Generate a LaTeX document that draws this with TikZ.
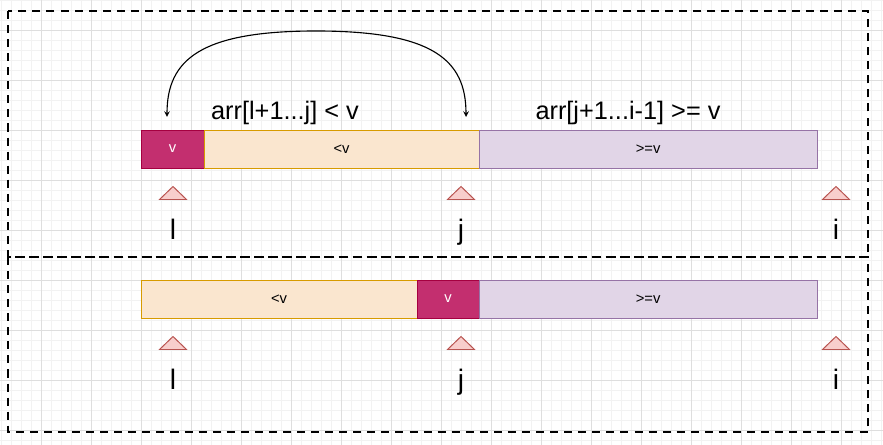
\documentclass[tikz,border=0pt]{standalone}
\usepackage{fontspec}
\setmainfont{Liberation Sans}
\usetikzlibrary{arrows,positioning}
\definecolor{pivotfill}{RGB}{195,47,111}
\definecolor{pivotline}{RGB}{165,0,64}
\definecolor{lessfill}{RGB}{250,230,207}
\definecolor{lessline}{RGB}{215,155,0}
\definecolor{geqfill}{RGB}{225,213,231}
\definecolor{geqline}{RGB}{150,115,166}
\definecolor{markfill}{RGB}{248,206,204}
\definecolor{markline}{RGB}{184,84,80}

\begin{document}
\begin{tikzpicture}[
    x=0.025cm, y=-0.025cm,
    minorgrid/.style={draw=black!5, line width=0.5pt},
    majorgrid/.style={draw=black!13, line width=0.6pt},
    frame/.style={draw, line width=1.4pt, dash pattern=on 5.7pt off 4.3pt},
    cell/.style={rectangle, draw, line width=0.7pt, inner sep=0pt, outer sep=0pt,
                 minimum height=0.95cm, font=\fontsize{10.5}{12}\selectfont},
    pivot/.style={cell, fill=pivotfill, draw=pivotline, text=white},
    lessbox/.style={cell, fill=lessfill, draw=lessline},
    geqbox/.style={cell, fill=geqfill, draw=geqline, minimum width=8.45cm},
    marker/.style={fill=markfill, draw=markline, line width=0.7pt},
    idx/.style={anchor=base, inner sep=0pt, font=\fontsize{20}{24}\selectfont},
    note/.style={anchor=base, inner sep=0pt, font=\fontsize{18}{22}\selectfont},
    arrow/.style={<->, >=stealth, line width=0.8pt}
]
\useasboundingbox (0,0) rectangle (883,445);

% background grid
\foreach \gx in {1.7,11.7,...,881.7}
    \draw[minorgrid] (\gx,0) -- (\gx,445);
\foreach \gy in {0,10,...,440}
    \draw[minorgrid] (0,\gy) -- (883,\gy);
\foreach \gx in {41.7,91.7,...,841.7}
    \draw[majorgrid] (\gx,0) -- (\gx,445);
\foreach \gy in {30,80,...,430}
    \draw[majorgrid] (0,\gy) -- (883,\gy);

% the two stages
\draw[frame] (8,11) rectangle (868,257);
\draw[frame] (8,257) rectangle (868,432);

% before the swap
\node[pivot, minimum width=1.575cm, anchor=north west] (pv1) at (141,130) {v};
\node[lessbox, minimum width=6.875cm, right=0pt of pv1] (lt1) {<v};
\node[geqbox, right=0pt of lt1] (ge1) {>=v};

\node[note] (lowpart) at (285,120) {arr[l+1...j] < v};
\node[note] (highpart) at (628,120) {arr[j+1...i-1] >= v};

\coordinate (swapl) at (167,117);
\coordinate (swapj) at (466,117);
\draw[arrow] (swapl) .. controls (167,60) and (200,31) .. (316,31)
             .. controls (433,31) and (466,60) .. (swapj);

% after the swap
\node[lessbox, minimum width=6.9cm, anchor=north west] (lt2) at (141,280) {<v};
\node[pivot, minimum width=1.55cm, right=0pt of lt2] (pv2) {v};
\node[geqbox, right=0pt of pv2] (ge2) {>=v};

% index markers
\foreach \name/\px/\py/\txt in {l1/173/193/l, j1/461/193/j, i1/836/193/i,
                                l2/173/343/l, j2/461/343/j, i2/836/343/i} {
    \draw[marker] (\px-13.5,\py+6.5) -- (\px,\py-6.5) -- (\px+13.5,\py+6.5) -- cycle;
    \node[idx] (\name) at (\px,\py+47) {\txt};
}
\end{tikzpicture}
\end{document}
